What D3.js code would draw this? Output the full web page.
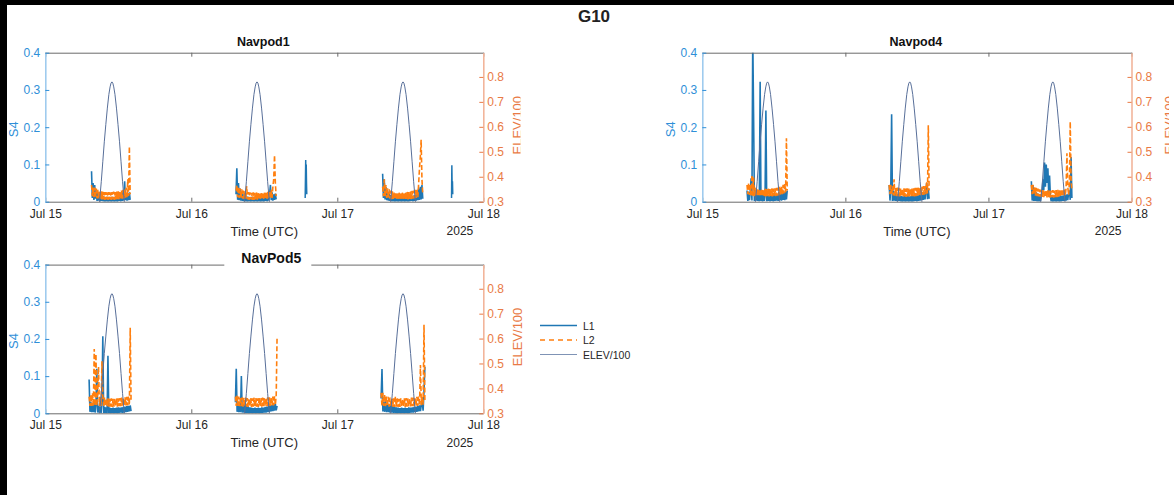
<!DOCTYPE html>
<html><head><meta charset="utf-8">
<script src="https://cdn.jsdelivr.net/npm/d3@7"></script>
<style>
body{margin:0;background:#000;}
svg{display:block;}
text{font-family:"Liberation Sans",Arial,Helvetica,sans-serif;}
</style>
</head><body>
<svg id="c" width="1174" height="495"></svg>
<script>
// ---------------- DATA ----------------
const figTitle = "G10";
const panelTitles = ["Navpod1", "Navpod4", "NavPod5"];
const xTickLabels = ["Jul 15", "Jul 16", "Jul 17", "Jul 18"];
const yLeftTicks = [0, 0.1, 0.2, 0.3, 0.4];
const yRightTicks = [0.3, 0.4, 0.5, 0.6, 0.7, 0.8];
const legendLabels = ["L1", "L2", "ELEV/100"];

// hours since 2025-07-15 00:00 UTC: start / end of each tracked pass
const navpod1Start = [7.6, 31.35, 55.45];
const navpod1End   = [13.95, 37.95, 62.05];
const navpod4Start = [7.5, 31.35, 55.2];
const navpod4End   = [14.25, 38.05, 62.0];
const navpod5Start = [7.2, 31.25, 55.2];
const navpod5End   = [14.1, 38.1, 62.4];

// S4 samples (evenly spaced across each pass)
const navpod1L1 = [
 [.082,.01,.05,.005,.045,.008,.03,.002,.025,.003,.02,.001,.016,.002,.014,.001,.013,0,.012,.001,.013,0,.012,.001,.012,0,.013,.001,.012,0,.013,.001,.014,0,.013,.002,.015,.001,.016,.002,.03,.003,.055,.004,.02,.003,.022,.004,.025,.005],
 [.02,.09,.005,.05,.004,.035,.003,.025,.002,.02,.001,.016,.001,.014,0,.013,.001,.012,0,.013,.001,.012,0,.012,.001,.013,0,.012,.001,.013,0,.012,.001,.014,0,.013,.002,.015,.001,.016,.003,.02,.045,.004,.025,.003,.02,.005,.022,.006],
 [.075,.01,.06,.006,.04,.004,.03,.003,.022,.002,.018,.001,.015,.001,.013,0,.012,.001,.013,0,.012,.001,.012,0,.013,.001,.012,0,.013,.001,.012,0,.014,.001,.013,.002,.015,.001,.016,.002,.018,.003,.022,.004,.035,.005,.04,.006,.045,.008]
];
const navpod1L2 = [
 [.045,.015,.04,.012,.038,.01,.035,.009,.032,.008,.03,.007,.028,.006,.027,.006,.026,.005,.026,.006,.025,.005,.026,.006,.025,.005,.026,.006,.027,.005,.026,.006,.027,.007,.028,.006,.029,.007,.03,.008,.032,.009,.034,.01,.038,.012,.06,.015,.148,.02],
 [.03,.045,.012,.04,.01,.036,.009,.033,.008,.03,.007,.028,.006,.042,.006,.026,.005,.025,.006,.024,.005,.025,.005,.024,.006,.025,.005,.024,.006,.025,.005,.026,.006,.025,.006,.027,.007,.026,.007,.028,.008,.03,.009,.032,.01,.04,.06,.125,.05,.015],
 [.04,.015,.06,.012,.045,.01,.036,.009,.033,.008,.03,.007,.028,.006,.027,.006,.026,.005,.025,.005,.026,.006,.025,.005,.026,.006,.025,.005,.026,.006,.027,.006,.026,.007,.028,.007,.029,.008,.03,.009,.032,.01,.035,.012,.05,.09,.12,.166,.06,.02]
];
// short low-elevation L1-only tracks on Navpod1
const navpod1ExtraStart = [42.72, 66.78];
const navpod1ExtraEnd   = [42.98, 66.98];
const navpod1ExtraL1 = [
 [.01,.06,.112,.04,.1,.05,.02],
 [.01,.098,.04,.055,.02]
];

const navpod4L1 = [
 [.03,.002,.025,.004,.03,.063,.003,.45,.235,.002,.03,.003,.025,.002,.022,.001,.322,.002,.02,.001,.02,.002,.018,.245,.001,.018,.002,.017,.001,.018,.002,.017,.001,.018,.002,.019,.003,.02,.002,.021,.004,.022,.003,.024,.005,.026,.004,.028,.006,.03],
 [.045,.003,.04,.235,.002,.03,.003,.025,.002,.02,.001,.018,.002,.016,.001,.015,0,.014,.001,.015,0,.014,.001,.015,0,.014,.001,.015,0,.016,.001,.015,.002,.016,.001,.017,.002,.018,.003,.02,.004,.022,.005,.025,.006,.03,.05,.007,.035,.008],
 [.055,.003,.045,.002,.03,.002,.025,.001,.022,.001,.02,.001,.018,.02,.06,.03,.105,.04,.1,.05,.09,.02,.07,.015,.001,.014,0,.013,.001,.014,0,.013,.001,.014,0,.015,.001,.016,.002,.017,.002,.018,.003,.02,.004,.022,.03,.005,.12,.01]
];
const navpod4L2 = [
 [.045,.02,.05,.018,.045,.017,.072,.016,.065,.015,.038,.016,.036,.015,.035,.014,.034,.015,.035,.014,.034,.013,.035,.014,.034,.015,.035,.014,.034,.015,.036,.014,.035,.016,.036,.015,.037,.016,.038,.017,.04,.018,.042,.02,.045,.022,.05,.025,.17,.03],
 [.045,.02,.045,.018,.042,.017,.06,.016,.04,.015,.038,.015,.037,.014,.036,.014,.035,.013,.036,.014,.035,.013,.036,.014,.035,.013,.036,.014,.035,.015,.036,.014,.037,.015,.037,.016,.038,.016,.039,.017,.04,.018,.042,.019,.045,.02,.055,.022,.205,.03],
 [.045,.02,.045,.018,.04,.016,.037,.015,.035,.014,.033,.013,.032,.013,.031,.012,.03,.012,.03,.011,.031,.012,.03,.011,.03,.012,.031,.011,.03,.012,.031,.012,.032,.013,.032,.013,.033,.014,.034,.015,.035,.016,.037,.13,.04,.018,.05,.215,.06,.03]
];

const navpod5L1 = [
 [.091,.004,.03,.003,.025,.003,.03,.002,.022,.12,.002,.02,.002,.018,.001,.03,.207,.001,.017,.001,.016,0,.155,.001,.015,0,.014,.001,.015,0,.014,.001,.015,0,.016,.001,.015,.002,.016,.001,.017,.002,.018,.003,.019,.004,.02,.005,.021,.006],
 [.03,.12,.004,.03,.003,.028,.003,.1,.002,.025,.002,.022,.001,.02,.001,.018,0,.016,.001,.015,0,.014,.001,.015,0,.014,.001,.015,0,.014,.001,.016,.001,.015,.002,.017,.002,.018,.003,.019,.004,.02,.005,.022,.006,.024,.007,.025,.008,.02],
 [.04,.119,.005,.03,.004,.035,.003,.028,.003,.024,.002,.022,.002,.02,.001,.018,.001,.016,0,.015,.001,.014,0,.015,.001,.014,0,.015,.001,.014,0,.016,.001,.015,.002,.016,.002,.017,.003,.018,.004,.019,.005,.021,.006,.023,.03,.007,.06,.125]
];
const navpod5L2 = [
 [.045,.02,.05,.02,.055,.02,.173,.02,.16,.02,.05,.125,.02,.045,.02,.14,.045,.02,.042,.019,.04,.018,.04,.018,.039,.018,.04,.017,.039,.018,.04,.018,.041,.018,.04,.019,.041,.019,.042,.02,.042,.02,.043,.021,.044,.021,.045,.022,.23,.03],
 [.045,.02,.048,.02,.045,.019,.044,.019,.043,.018,.042,.018,.042,.018,.041,.017,.04,.018,.041,.017,.04,.018,.042,.017,.041,.018,.04,.017,.042,.018,.041,.018,.042,.019,.041,.019,.042,.019,.043,.02,.043,.02,.044,.021,.045,.021,.046,.022,.05,.207],
 [.055,.02,.055,.02,.05,.019,.045,.019,.044,.018,.042,.018,.041,.018,.04,.017,.045,.018,.04,.017,.039,.017,.04,.017,.039,.018,.04,.017,.041,.018,.04,.018,.041,.018,.042,.019,.042,.019,.043,.02,.044,.02,.045,.021,.13,.022,.047,.023,.238,.03]
];

// satellite elevation / 100 for each pass (culmination time + offsets)
const elevPeakH = [10.95, 34.8, 58.8];
const elevOffsetH = [-3.2,-2.75,-2.5,-2.25,-2.0,-1.75,-1.5,-1.25,-1.0,-0.75,-0.5,-0.3,-0.15,0,0.15,0.3,0.5,0.75,1.0,1.25,1.5,1.75,2.0,2.25,2.5,2.75,3.2];
const elevValue  = [.05,.14,.19,.25,.31,.38,.46,.54,.61,.675,.73,.76,.775,.78,.775,.76,.73,.675,.61,.54,.46,.38,.31,.25,.19,.14,.05];

// ---------------- STYLE / LAYOUT ----------------
const C_L1 = "#1f77b4", C_L2 = "#ff7f0e", C_EL = "#586f99";
const C_LEFT = "#2f8fd8", C_LEFT_LINE = "#9fcbee";
const C_RIGHT = "#e97a45", C_RIGHT_LINE = "#f2b59b";
const C_BOX = "#6b6b6b", C_TXT = "#262626";

const baseMs = Date.UTC(2025, 6, 15);
const toDate = h => new Date(baseMs + h * 3600e3);

const panels = [
  {title: panelTitles[0], left: 45.3, right: 483.3, top: 52.7, bottom: 201.7,
   start: navpod1Start, end: navpod1End, l1: navpod1L1, l2: navpod1L2,
   extra: {start: navpod1ExtraStart, end: navpod1ExtraEnd, l1: navpod1ExtraL1},
   labelOff: 39, labelClip: 520.5, titleY: 46, titleSize: 12.5},
  {title: panelTitles[1], left: 702.3, right: 1131.5, top: 52.7, bottom: 201.7,
   start: navpod4Start, end: navpod4End, l1: navpod4L1, l2: navpod4L2,
   labelOff: 42, labelClip: 1169, titleY: 46, titleSize: 12.5},
  {title: panelTitles[2], left: 45.3, right: 483.3, top: 264.6, bottom: 413.3,
   start: navpod5Start, end: navpod5End, l1: navpod5L1, l2: navpod5L2,
   labelOff: 39, titleY: 263, titleSize: 14, titleBox: true}
];

const svg = d3.select("#c");
svg.append("rect").attr("x", 7).attr("y", 5).attr("width", 1167).attr("height", 490).attr("fill", "#fff");

svg.append("text").attr("x", 594).attr("y", 21.5).attr("text-anchor", "middle")
  .attr("font-size", 17).attr("font-weight", "bold").attr("fill", "#222").text(figTitle);

function series(start, end, vals) {
  const n = vals.length;
  return vals.map((v, i) => ({t: toDate(start + i * (end - start) / (n - 1)), v}));
}

panels.forEach((p, pi) => {
  const g = svg.append("g");
  const x = d3.scaleUtc().domain([toDate(0), toDate(72)]).range([p.left, p.right]);
  const yL = d3.scaleLinear().domain([0, 0.4]).range([p.bottom, p.top]);
  const yR = d3.scaleLinear().domain([0.3, 0.897]).range([p.bottom, p.top]);
  const dayTicks = xTickLabels.map((_, i) => toDate(24 * i));

  const cid = "clip" + pi;
  svg.append("clipPath").attr("id", cid).append("rect")
    .attr("x", p.left).attr("y", p.top).attr("width", p.right - p.left).attr("height", p.bottom - p.top);
  const plot = g.append("g").attr("clip-path", `url(#${cid})`);

  const lineL = d3.line().x(d => x(d.t)).y(d => yL(d.v));
  const lineR = d3.line().x(d => x(d.t)).y(d => yR(d.v));

  p.l1.forEach((vals, k) => {
    plot.append("path").attr("d", lineL(series(p.start[k], p.end[k], vals)))
      .attr("fill", "none").attr("stroke", C_L1).attr("stroke-width", 1.6);
  });
  if (p.extra) p.extra.l1.forEach((vals, k) => {
    plot.append("path").attr("d", lineL(series(p.extra.start[k], p.extra.end[k], vals)))
      .attr("fill", "none").attr("stroke", C_L1).attr("stroke-width", 1.5);
  });
  p.l2.forEach((vals, k) => {
    plot.append("path").attr("d", lineL(series(p.start[k], p.end[k], vals)))
      .attr("fill", "none").attr("stroke", C_L2).attr("stroke-width", 1.6).attr("stroke-dasharray", "5,2.5");
  });
  elevPeakH.forEach(pk => {
    const pts = elevOffsetH.map((o, i) => ({t: toDate(pk + o), v: elevValue[i]}));
    plot.append("path").attr("d", lineR(pts))
      .attr("fill", "none").attr("stroke", C_EL).attr("stroke-width", 1);
  });

  // top box line
  g.append("g").attr("transform", `translate(0,${p.top})`)
    .call(d3.axisTop(x).tickValues(dayTicks).tickSizeInner(-4).tickSizeOuter(0).tickFormat(""))
    .call(a => a.selectAll("path,line").attr("stroke", C_BOX));
  // bottom axis
  g.append("g").attr("transform", `translate(0,${p.bottom})`)
    .call(d3.axisBottom(x).tickValues(dayTicks).tickSizeInner(-4).tickSizeOuter(0).tickPadding(7.5)
      .tickFormat((d, i) => xTickLabels[i]))
    .call(a => {
      a.selectAll("path,line").attr("stroke", C_BOX);
      a.selectAll("text").attr("font-size", 12).attr("fill", C_TXT)
        .attr("font-family", "'Liberation Sans',Arial,sans-serif");
    });
  // left axis
  g.append("g").attr("transform", `translate(${p.left},0)`)
    .call(d3.axisLeft(yL).tickValues(yLeftTicks).tickSizeInner(-4).tickSizeOuter(0).tickPadding(5)
      .tickFormat(d => d === 0 ? "0" : d.toFixed(1)))
    .call(a => {
      a.select("path").attr("stroke", C_LEFT_LINE).attr("stroke-width", 1.6);
      a.selectAll("line").attr("stroke", C_LEFT);
      a.selectAll("text").attr("font-size", 12).attr("fill", C_LEFT)
        .attr("font-family", "'Liberation Sans',Arial,sans-serif");
    });
  // right axis
  g.append("g").attr("transform", `translate(${p.right},0)`)
    .call(d3.axisRight(yR).tickValues(yRightTicks).tickSizeInner(-4).tickSizeOuter(0).tickPadding(4)
      .tickFormat(d => d.toFixed(1)))
    .call(a => {
      a.select("path").attr("stroke", C_RIGHT_LINE).attr("stroke-width", 1.6);
      a.selectAll("line").attr("stroke", C_RIGHT);
      a.selectAll("text").attr("font-size", 12).attr("fill", C_RIGHT)
        .attr("font-family", "'Liberation Sans',Arial,sans-serif");
    });

  const midX = (p.left + p.right) / 2, midY = (p.top + p.bottom) / 2;
  // axis labels
  g.append("text").attr("x", midX).attr("y", p.bottom + 34).attr("text-anchor", "middle")
    .attr("font-size", 13).attr("fill", C_TXT).text("Time (UTC)");
  g.append("text").attr("x", p.right - 10).attr("y", p.bottom + 33.5).attr("text-anchor", "end")
    .attr("font-size", 12).attr("fill", C_TXT).text("2025");
  g.append("text").attr("transform", `translate(${p.left - 27},${midY + 2}) rotate(-90)`)
    .attr("text-anchor", "middle").attr("font-size", 13).attr("fill", C_LEFT).text("S4");
  const holder = g.append("g");
  if (p.labelClip) {
    const lc = "lclip" + pi;
    svg.append("clipPath").attr("id", lc).append("rect")
      .attr("x", 0).attr("y", 0).attr("width", p.labelClip).attr("height", 495);
    holder.attr("clip-path", `url(#${lc})`);
  }
  holder.append("text").attr("transform", `translate(${p.right + p.labelOff},${midY - 2}) rotate(-90)`)
    .attr("text-anchor", "middle").attr("font-size", 13).attr("fill", C_RIGHT).text("ELEV/100");

  // title
  if (p.titleBox) {
    g.append("rect").attr("x", midX - 40).attr("y", p.top - 16).attr("width", 87).attr("height", 19).attr("fill", "#fff");
  }
  g.append("text").attr("x", p.titleBox ? midX + 7 : midX - 1).attr("y", p.titleY).attr("text-anchor", "middle")
    .attr("font-size", p.titleSize).attr("font-weight", "bold").attr("fill", "#111").text(p.title);
});

// legend
const lg = svg.append("g");
const legendRows = [
  {y: 325.5, color: C_L1, dash: null, w: 1.6},
  {y: 340, color: C_L2, dash: "5,4", w: 1.6},
  {y: 354.5, color: "#7f93b5", dash: null, w: 1.2}
];
legendRows.forEach((r, i) => {
  lg.append("line").attr("x1", 540).attr("x2", 577).attr("y1", r.y).attr("y2", r.y)
    .attr("stroke", r.color).attr("stroke-width", r.w).attr("stroke-dasharray", r.dash);
  lg.append("text").attr("x", 583).attr("y", r.y).attr("dominant-baseline", "central")
    .attr("font-size", 10.5).attr("fill", C_TXT).text(legendLabels[i]);
});
</script>
</body></html>
